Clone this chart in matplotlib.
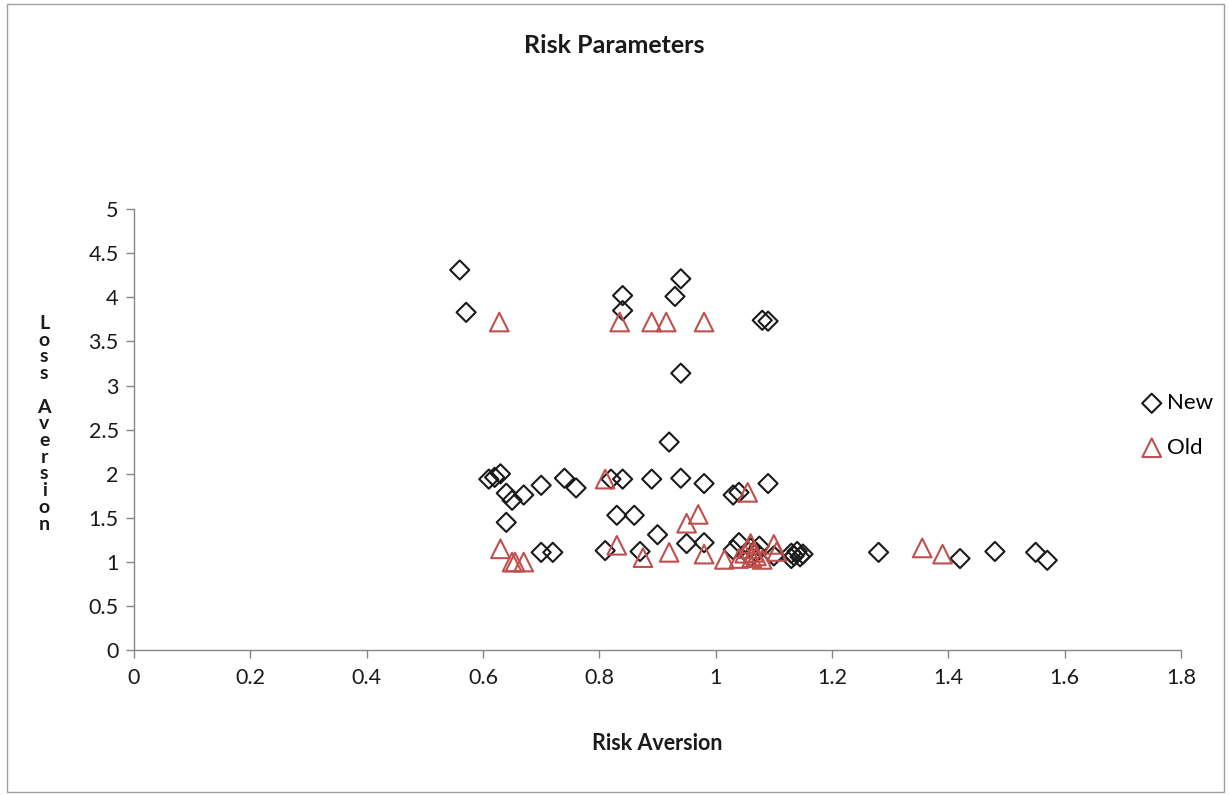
import matplotlib
matplotlib.use("Agg")
import matplotlib.pyplot as plt
from matplotlib.patches import Rectangle

plt.rcParams['font.family'] = ['Lato', 'DejaVu Sans']

new_x = [0.56, 0.571, 0.84, 0.84, 0.94, 0.93, 1.08, 1.09, 0.94, 0.92,
         0.61, 0.62, 0.63, 0.64, 0.65, 0.67, 0.64, 0.70, 0.74, 0.76,
         0.82, 0.84, 0.89, 0.94, 0.98, 1.03, 1.04, 1.09, 0.83, 0.86,
         0.90, 0.95, 0.98, 0.70, 0.72, 0.81, 0.87,
         1.03, 1.04, 1.06, 1.06, 1.07, 1.075, 1.10, 1.13, 1.135, 1.14,
         1.145, 1.15, 1.13,
         1.28, 1.42, 1.48, 1.55, 1.57]
new_y = [4.31, 3.83, 4.02, 3.85, 4.21, 4.01, 3.74, 3.73, 3.14, 2.36,
         1.94, 1.96, 2.00, 1.78, 1.70, 1.76, 1.45, 1.87, 1.95, 1.84,
         1.94, 1.94, 1.94, 1.95, 1.89, 1.76, 1.79, 1.89, 1.53, 1.53,
         1.31, 1.21, 1.22, 1.11, 1.11, 1.13, 1.12,
         1.14, 1.22, 1.16, 1.06, 1.11, 1.18, 1.07, 1.10, 1.07, 1.12,
         1.06, 1.09, 1.04,
         1.11, 1.04, 1.12, 1.11, 1.02]

old_x = [0.628, 0.835, 0.89, 0.915, 0.98, 0.81, 1.055, 0.95, 0.97,
         0.63, 0.65, 0.655, 0.67, 0.83, 0.875, 0.92, 0.98, 1.015, 1.04,
         1.05, 1.055, 1.06, 1.062, 1.065, 1.07, 1.08, 1.10, 1.105,
         1.355, 1.39]
old_y = [3.72, 3.72, 3.72, 3.72, 3.72, 1.94, 1.79, 1.44, 1.54,
         1.15, 1.00, 1.00, 1.00, 1.19, 1.05, 1.11, 1.09, 1.03, 1.04,
         1.10, 1.15, 1.21, 1.05, 1.11, 1.07, 1.03, 1.20, 1.12,
         1.16, 1.09]

fig = plt.figure(figsize=(12.29, 7.95), dpi=100)
fig.patches.append(Rectangle((0.006, 0.004), 0.99, 0.991, transform=fig.transFigure,
                             fill=False, edgecolor='#a0a0a0', linewidth=1.0))
ax = fig.add_axes([0.109, 0.182, 0.852, 0.555])

ax.scatter(new_x, new_y, marker='D', s=95, facecolors='none', edgecolors='#1a1a1a',
           linewidths=1.5, label='New', zorder=3)
ax.scatter(old_x, old_y, marker='^', s=180, facecolors='none', edgecolors='#c0504d',
           linewidths=1.5, label='Old', zorder=3)

ax.set_xlim(0, 1.8)
ax.set_ylim(0, 5)
ax.set_xticks([0, 0.2, 0.4, 0.6, 0.8, 1, 1.2, 1.4, 1.6, 1.8])
ax.set_xticklabels(['0', '0.2', '0.4', '0.6', '0.8', '1', '1.2', '1.4', '1.6', '1.8'])
ax.set_yticks([0, 0.5, 1, 1.5, 2, 2.5, 3, 3.5, 4, 4.5, 5])
ax.set_yticklabels(['0', '0.5', '1', '1.5', '2', '2.5', '3', '3.5', '4', '4.5', '5'])

for s in ['top', 'right']:
    ax.spines[s].set_visible(False)
for s in ['left', 'bottom']:
    ax.spines[s].set_color('#868686')
    ax.spines[s].set_linewidth(1.0)
ax.tick_params(axis='both', colors='#868686', labelcolor='#1a1a1a', labelsize=15.5,
               direction='out', length=6, width=1.0)
ax.tick_params(axis='x', pad=7)
ax.tick_params(axis='y', pad=5)

fig.text(0.5, 0.943, 'Risk Parameters', ha='center', va='center', fontsize=18,
         fontweight='bold', color='#1a1a1a')
fig.text(0.535, 0.065, 'Risk Aversion', ha='center', va='center', fontsize=15.5,
         fontweight='bold', color='#1a1a1a')
fig.text(0.036, 0.467, '\n'.join(list('Loss Aversion')), ha='center', va='center',
         fontsize=14, fontweight='bold', color='#1a1a1a', linespacing=0.98)

leg = fig.legend(loc='center left', bbox_to_anchor=(0.91, 0.465), frameon=False,
                 fontsize=16, handletextpad=0.1, labelspacing=1.1, handlelength=1.2)

fig.savefig('out.png', dpi=100)
